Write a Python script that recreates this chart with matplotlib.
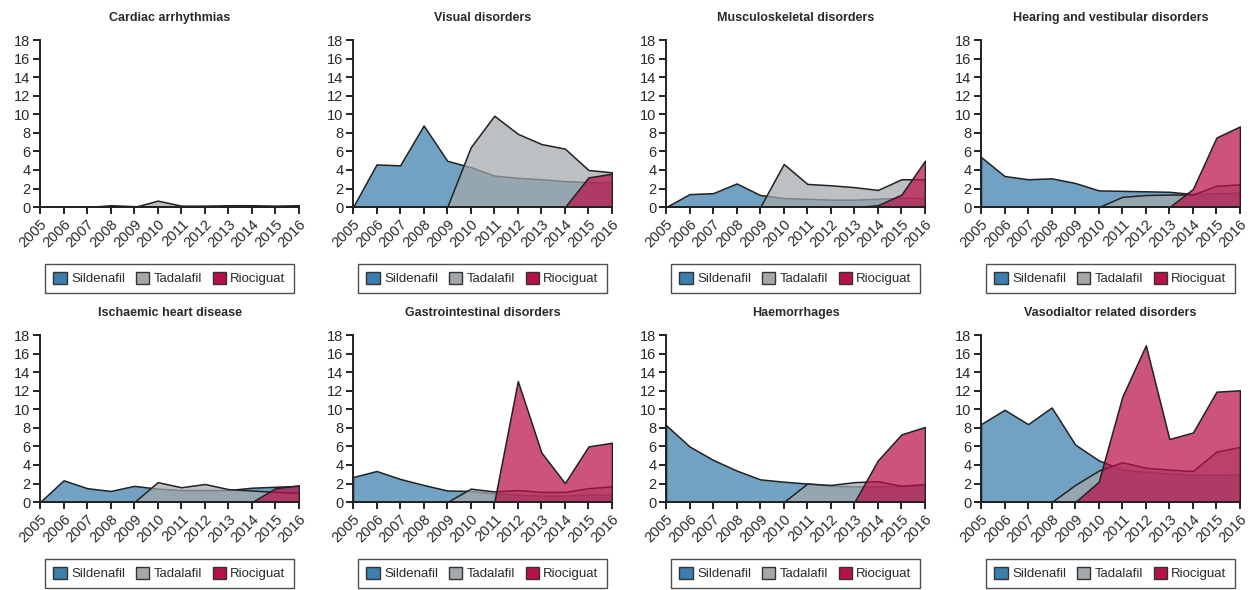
import numpy as np
import matplotlib
matplotlib.use("Agg")
import matplotlib.pyplot as plt
from matplotlib.patches import Patch
from matplotlib.colors import to_rgba

plt.rcParams['font.family'] = ['Liberation Sans', 'DejaVu Sans']

years = list(range(2005, 2017))
drugs = ["Sildenafil", "Tadalafil", "Riociguat"]
colors = ["#3a7fad", "#a4a8ab", "#b8104a"]

titles = [
    "Cardiac arrhythmias", "Visual disorders", "Musculoskeletal disorders",
    "Hearing and vestibular disorders", "Ischaemic heart disease",
    "Gastrointestinal disorders", "Haemorrhages", "Vasodialtor related disorders",
]

N = None
# values per year 2005..2016, None = no reports yet
sildenafil = [
    [0, 0, 0, 0.2, 0.1, 0.1, 0.1, 0.1, 0.1, 0.1, 0.1, 0.1],
    [0, 4.6, 4.5, 8.8, 5.0, 4.3, 3.4, 3.15, 3.0, 2.8, 2.7, 2.7],
    [0, 1.4, 1.5, 2.55, 1.3, 0.97, 0.9, 0.8, 0.8, 0.9, 1.0, 1.0],
    [5.4, 3.35, 3.0, 3.1, 2.6, 1.8, 1.75, 1.7, 1.65, 1.4, 1.5, 1.55],
    [0, 2.35, 1.5, 1.2, 1.75, 1.45, 1.3, 1.3, 1.3, 1.55, 1.65, 1.75],
    [2.7, 3.35, 2.5, 1.85, 1.25, 1.2, 0.95, 0.8, 0.7, 0.7, 0.8, 0.8],
    [8.3, 6.0, 4.55, 3.4, 2.45, 2.2, 2.0, 1.75, 1.7, 1.7, 1.75, 1.8],
    [8.4, 9.95, 8.4, 10.2, 6.2, 4.5, 3.5, 3.25, 3.1, 2.95, 2.95, 3.0],
]
tadalafil = [
    [N, N, N, N, 0, 0.7, 0.15, 0.15, 0.2, 0.2, 0.15, 0.2],
    [N, N, N, N, 0, 6.45, 9.85, 7.9, 6.8, 6.3, 4.0, 3.75],
    [N, N, N, N, 0, 4.65, 2.5, 2.35, 2.15, 1.85, 3.0, 3.0],
    [N, N, N, N, N, 0, 1.1, 1.3, 1.35, 1.35, 2.3, 2.45],
    [N, N, N, N, 0, 2.15, 1.6, 1.95, 1.4, 1.25, 1.1, 1.0],
    [N, N, N, N, 0, 1.45, 1.15, 1.3, 1.1, 1.1, 1.5, 1.7],
    [N, N, N, N, N, 0, 2.0, 1.85, 2.15, 2.25, 1.75, 1.95],
    [N, N, N, 0, 1.85, 3.4, 4.3, 3.7, 3.5, 3.35, 5.45, 5.95],
]
riociguat = [
    [N, N, N, N, N, N, N, N, N, 0, 0.05, 0.05],
    [N, N, N, N, N, N, N, N, N, 0, 3.2, 3.6],
    [N, N, N, N, N, N, N, N, 0, 0.2, 1.35, 5.0],
    [N, N, N, N, N, N, N, N, 0, 1.95, 7.5, 8.7],
    [N, N, N, N, N, N, N, N, N, 0, 1.5, 1.8],
    [N, N, N, N, N, N, 0, 13.05, 5.35, 2.05, 6.0, 6.4],
    [N, N, N, N, N, N, N, N, 0, 4.5, 7.3, 8.1],
    [N, N, N, N, 0, 2.2, 11.35, 16.9, 6.8, 7.5, 11.9, 12.05],
]

fig = plt.figure(figsize=(12.5, 5.9), dpi=100)
lefts = [0.032, 0.2824, 0.5328, 0.7848]
bottoms = [0.649, 0.149]
txt = "#2a2a2a"

for i, title in enumerate(titles):
    ax = fig.add_axes([lefts[i % 4], bottoms[i // 4], 0.2072, 0.283])
    series = [sildenafil[i], tadalafil[i], riociguat[i]]
    for k, vals in enumerate(series):
        y = np.array([np.nan if v is None else v for v in vals], dtype=float)
        x = np.array(years, dtype=float)
        m = ~np.isnan(y)
        ax.fill_between(x[m], y[m], 0, facecolor=to_rgba(colors[k], 0.72),
                        edgecolor="#222222", linewidth=1.1, zorder=2 + k)
    ax.set_xlim(2005, 2016)
    ax.set_ylim(0, 18)
    ax.set_yticks(range(0, 19, 2))
    ax.set_xticks(years)
    ax.set_xticklabels([str(yr) for yr in years], rotation=45, ha="right",
                       rotation_mode="anchor")
    for s in ["top", "right"]:
        ax.spines[s].set_visible(False)
    for s in ["left", "bottom"]:
        ax.spines[s].set_linewidth(1.4)
        ax.spines[s].set_color("#222222")
        ax.spines[s].set_zorder(10)
    ax.tick_params(direction="out", length=5, width=1.4, color="#222222",
                   labelsize=10.5, labelcolor=txt, pad=2)
    ax.set_title(title, fontsize=9, fontweight="bold", color=txt, pad=14)
    handles = [Patch(facecolor=c, edgecolor="#333333", linewidth=1) for c in colors]
    leg = ax.legend(handles, drugs, loc="upper center", bbox_to_anchor=(0.5, -0.30),
                    ncol=3, fontsize=9.5, frameon=True, fancybox=False,
                    handlelength=1.0, handleheight=1.0, handletextpad=0.35,
                    columnspacing=0.8, borderpad=0.6, labelcolor=txt)
    leg.get_frame().set_edgecolor("#222222")
    leg.get_frame().set_linewidth(1.0)

fig.savefig("out.png", dpi=100)
